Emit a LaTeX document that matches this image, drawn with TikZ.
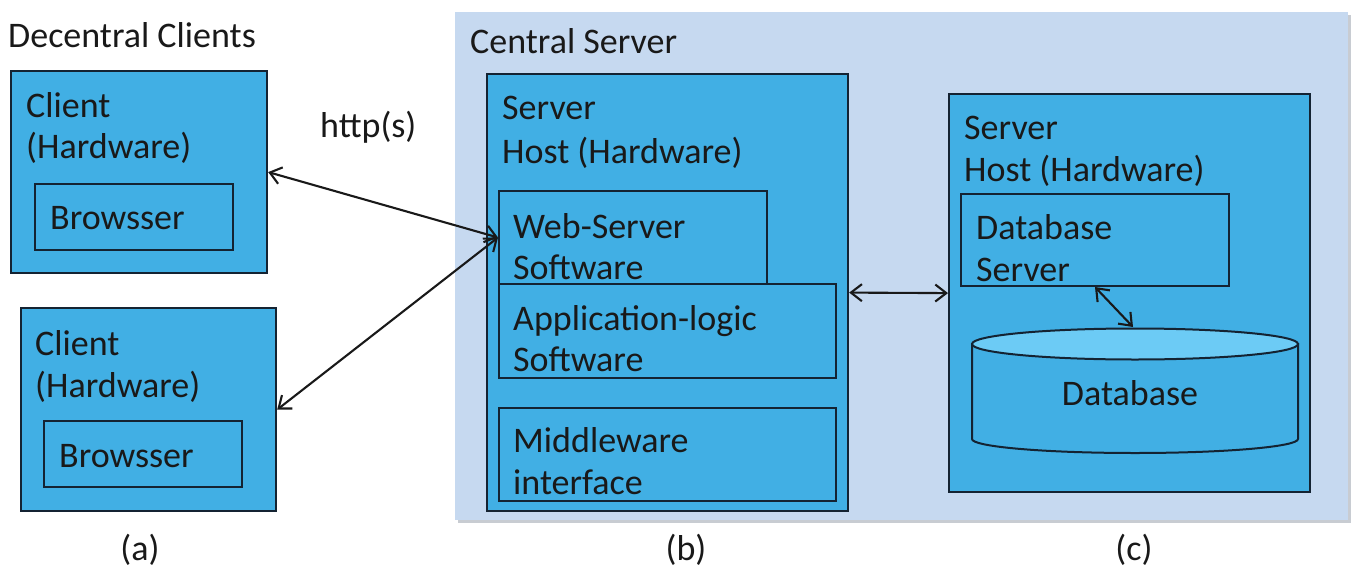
\documentclass[tikz,border=0pt]{standalone}
\usepackage{fontspec}
\setmainfont{Carlito}
\usetikzlibrary{arrows.meta}
\definecolor{bgblue}{RGB}{198,217,240}
\definecolor{shadowgray}{RGB}{200,204,210}
\definecolor{boxblue}{RGB}{65,175,228}
\definecolor{topblue}{RGB}{108,203,245}
\definecolor{edge}{RGB}{20,35,50}
\begin{document}
\begin{tikzpicture}[x=1pt,y=-1pt,
  box/.style={draw=edge, fill=boxblue, line width=2.2pt, anchor=north west, inner sep=0pt},
  inbox/.style={draw=edge, fill=boxblue, line width=2pt, anchor=north west, inner sep=0pt},
  txt/.style={anchor=base west, inner sep=0pt, font=\fontsize{36}{43}\selectfont, text=black!90},
  lbl/.style={inner sep=0pt, font=\fontsize{36}{43}\selectfont, text=black!90},
  conn/.style={line width=2.1pt, draw=black!90, {Straight Barb[length=11pt,width=17pt]}-{Straight Barb[length=11pt,width=17pt]}}]
\useasboundingbox (0,0) rectangle (1352,570);
% central server background
\fill[shadowgray] (458,15) rectangle (1351,523);
\node[fill=bgblue, anchor=north west, inner sep=0pt, minimum width=893pt, minimum height=508pt] (central) at (455,12) {};
\node[txt] (centrallbl) at (470,53) {Central Server};
% decentral clients
\node[txt] (declbl) at (8,47) {Decentral Clients};
\node[box, minimum width=256pt, minimum height=202pt] (c1) at (10,70) {};
\node[txt] (c1a) at (26,117) {Client};
\node[txt] (c1b) at (26,158) {(Hardware)};
\node[inbox, minimum width=198pt, minimum height=66pt] (b1) at (34,183) {};
\node[txt] (b1t) at (50,229) {Browsser};
\node[box, minimum width=255pt, minimum height=203pt] (c2) at (20,307) {};
\node[txt] (c2a) at (35,355) {Client};
\node[txt] (c2b) at (35,397) {(Hardware)};
\node[inbox, minimum width=198pt, minimum height=66pt] (b2) at (43,420) {};
\node[txt] (b2t) at (59,467) {Browsser};
\node[txt] (http) at (320,137) {http(s)};
% server host b
\node[box, minimum width=361pt, minimum height=437pt] (hb) at (486,73) {};
\node[txt] (hba) at (502,119) {Server};
\node[txt] (hbb) at (502,163) {Host (Hardware)};
\node[inbox, minimum width=268pt, minimum height=93pt] (web) at (498,190) {};
\node[txt] (weba) at (513,238) {Web-Server};
\node[txt] (webb) at (513,279) {Software};
\node[inbox, minimum width=337pt, minimum height=94pt] (app) at (498,283) {};
\node[txt] (appa) at (513,330) {Application-logic};
\node[txt] (appb) at (513,371) {Software};
\node[inbox, minimum width=337pt, minimum height=93pt] (mid) at (498,407) {};
\node[txt] (mida) at (513,452) {Middleware};
\node[txt] (midb) at (513,494) {interface};
% server host c
\node[box, minimum width=361pt, minimum height=398pt] (hc) at (948,93) {};
\node[txt] (hca) at (964,139) {Server};
\node[txt] (hcb) at (964,181) {Host (Hardware)};
\node[inbox, minimum width=268pt, minimum height=92pt] (dbs) at (960,193) {};
\node[txt] (dbsa) at (976,239) {Database};
\node[txt] (dbsb) at (976,281) {Server};
% cylinder
\draw[line width=2pt, draw=edge, fill=boxblue] (972,344) -- (972,439) arc[start angle=180, end angle=0, x radius=163, y radius=14] -- (1298,344) -- cycle;
\draw[line width=2pt, draw=edge, fill=topblue] (1135,344) ellipse[x radius=163, y radius=15.5];
\coordinate (dbtop) at (1133,327);
\node[lbl] (db) at (1130,393) {Database};
% connectors
\draw[conn] (c1.east) -- (web.west);
\draw[conn] (c2.east) -- (web.west);
\draw[conn] (hb.east) -- (hc.west);
\draw[conn] (dbs.south) -- (dbtop);
% captions
\node[lbl] (capa) at (140,550) {(a)};
\node[lbl] (capb) at (686,550) {(b)};
\node[lbl] (capc) at (1134,550) {(c)};
\end{tikzpicture}
\end{document}
